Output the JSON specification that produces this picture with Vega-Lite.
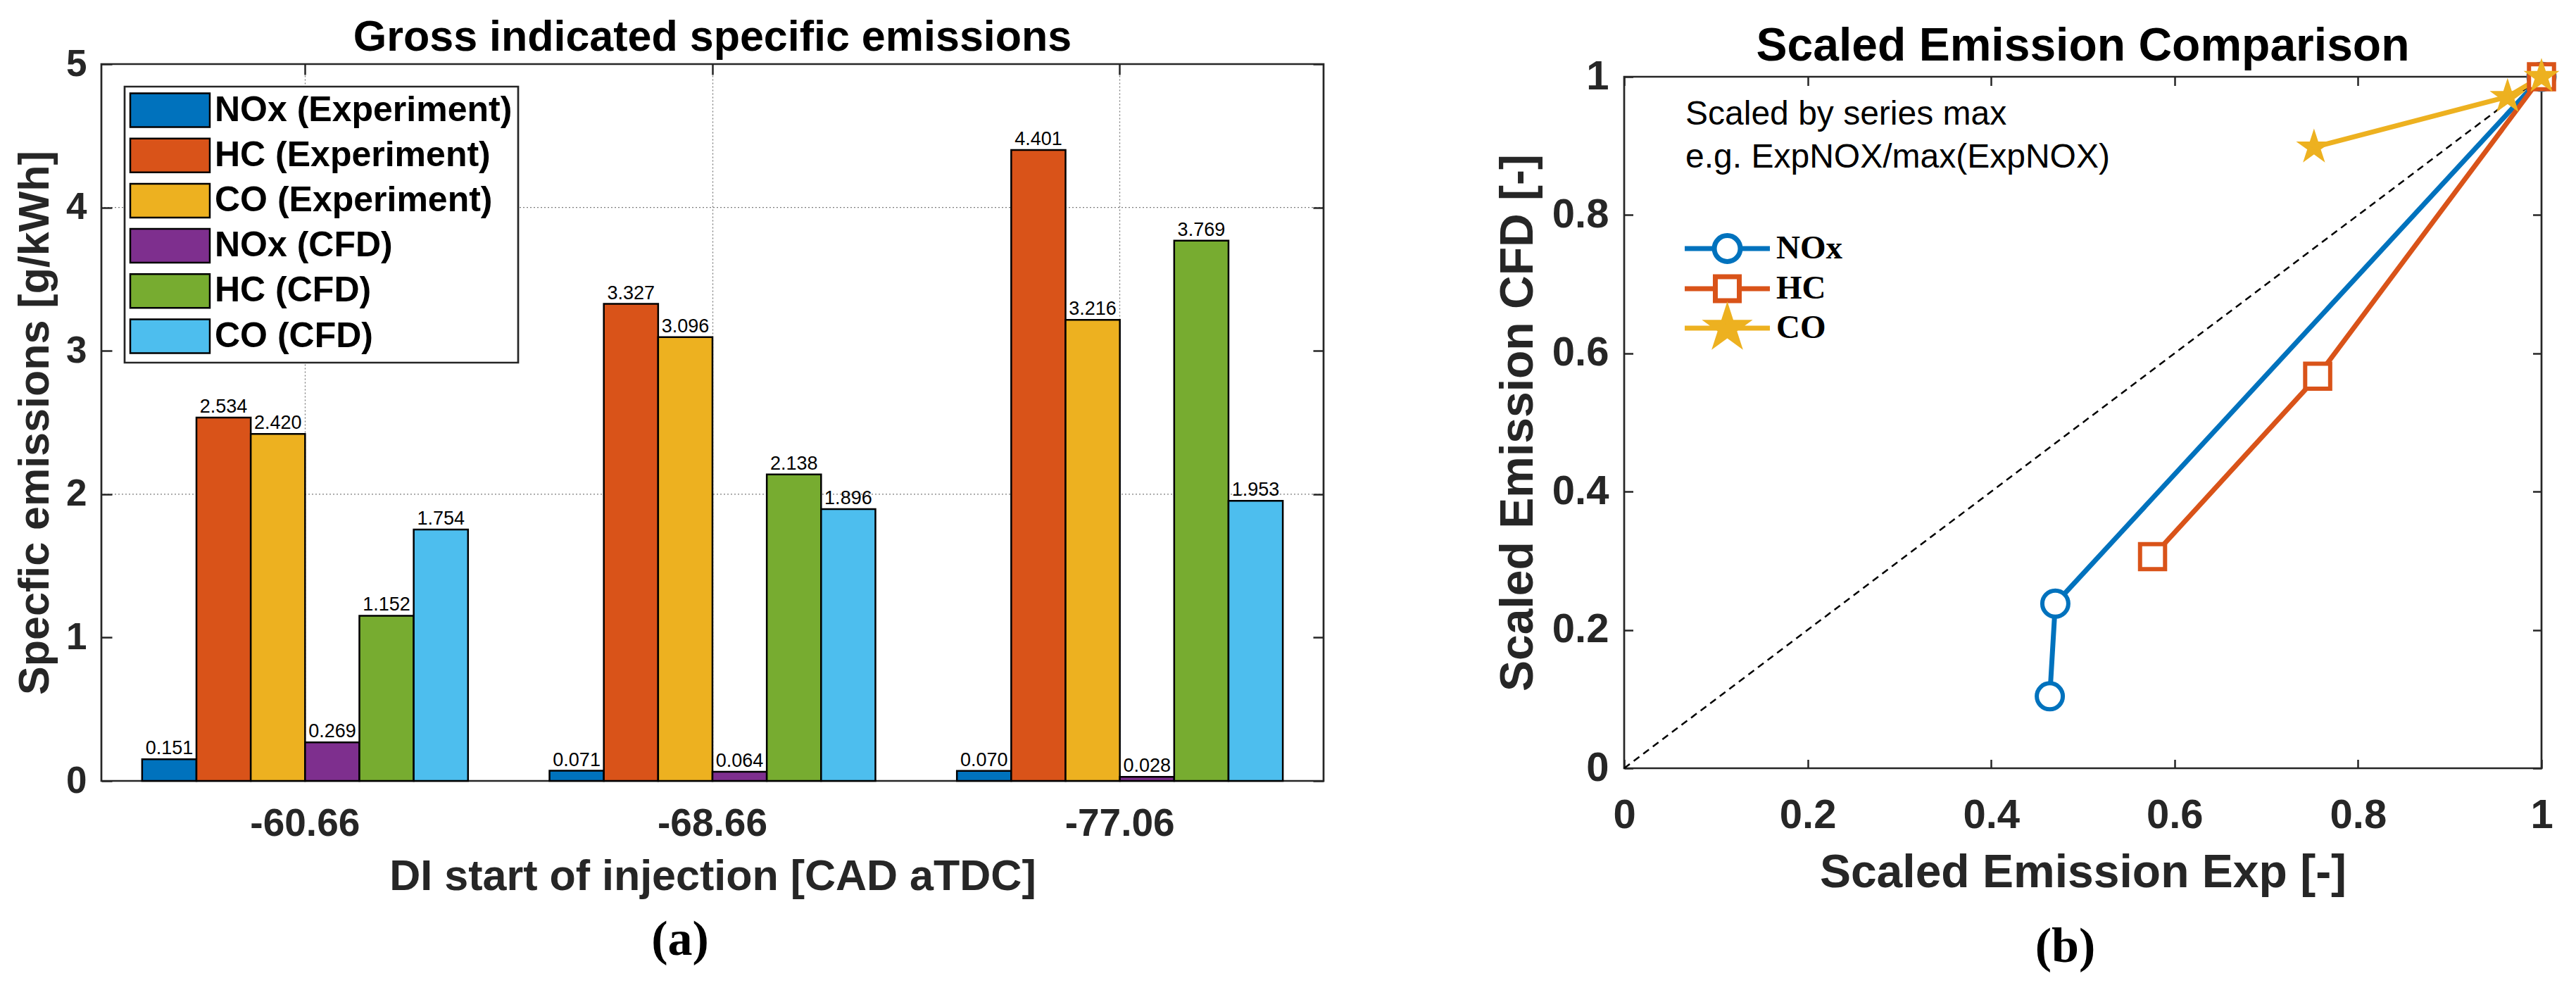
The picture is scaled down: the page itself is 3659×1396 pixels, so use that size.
{
  "$schema": "https://vega.github.io/schema/vega-lite/v6.json",
  "background": "white",
  "padding": {"left": 18, "top": 21, "right": 5, "bottom": 5},
  "datasets": {
    "emissions": [
      {"sit": "-60.66", "series": "NOx (Experiment)", "val": 0.151},
      {"sit": "-60.66", "series": "HC (Experiment)", "val": 2.534},
      {"sit": "-60.66", "series": "CO (Experiment)", "val": 2.420},
      {"sit": "-60.66", "series": "NOx (CFD)", "val": 0.269},
      {"sit": "-60.66", "series": "HC (CFD)", "val": 1.152},
      {"sit": "-60.66", "series": "CO (CFD)", "val": 1.754},
      {"sit": "-68.66", "series": "NOx (Experiment)", "val": 0.071},
      {"sit": "-68.66", "series": "HC (Experiment)", "val": 3.327},
      {"sit": "-68.66", "series": "CO (Experiment)", "val": 3.096},
      {"sit": "-68.66", "series": "NOx (CFD)", "val": 0.064},
      {"sit": "-68.66", "series": "HC (CFD)", "val": 2.138},
      {"sit": "-68.66", "series": "CO (CFD)", "val": 1.896},
      {"sit": "-77.06", "series": "NOx (Experiment)", "val": 0.070},
      {"sit": "-77.06", "series": "HC (Experiment)", "val": 4.401},
      {"sit": "-77.06", "series": "CO (Experiment)", "val": 3.216},
      {"sit": "-77.06", "series": "NOx (CFD)", "val": 0.028},
      {"sit": "-77.06", "series": "HC (CFD)", "val": 3.769},
      {"sit": "-77.06", "series": "CO (CFD)", "val": 1.953}
    ],
    "scaled": [
      {"pol": "NOx", "sit": "-60.66", "ord": 1, "exp": 1.000, "cfd": 1.000},
      {"pol": "NOx", "sit": "-68.66", "ord": 2, "exp": 0.470, "cfd": 0.238},
      {"pol": "NOx", "sit": "-77.06", "ord": 3, "exp": 0.464, "cfd": 0.104},
      {"pol": "HC", "sit": "-60.66", "ord": 1, "exp": 0.576, "cfd": 0.306},
      {"pol": "HC", "sit": "-68.66", "ord": 2, "exp": 0.756, "cfd": 0.567},
      {"pol": "HC", "sit": "-77.06", "ord": 3, "exp": 1.000, "cfd": 1.000},
      {"pol": "CO", "sit": "-60.66", "ord": 1, "exp": 0.752, "cfd": 0.898},
      {"pol": "CO", "sit": "-68.66", "ord": 2, "exp": 0.963, "cfd": 0.971},
      {"pol": "CO", "sit": "-77.06", "ord": 3, "exp": 1.000, "cfd": 1.000}
    ],
    "diag": [{"exp": 0, "cfd": 0}, {"exp": 1, "cfd": 1}],
    "grid": [{"g": 2}, {"g": 4}]
  },
  "spacing": 427,
  "bounds": "flush",
  "center": true,
  "resolve": {
    "scale": {"color": "independent", "shape": "independent", "stroke": "independent", "fill": "independent", "size": "independent"},
    "legend": {"color": "independent", "shape": "independent", "stroke": "independent", "fill": "independent"}
  },
  "hconcat": [
    {
      "width": 1736,
      "height": 1018,
      "layer": [
        {
          "data": {"name": "grid"},
          "mark": {"type": "rule", "stroke": "#262626", "strokeWidth": 1.3, "strokeDash": [2, 3], "opacity": 0.6},
          "encoding": {
            "y": {"field": "g", "type": "quantitative", "scale": {"domain": [0, 5], "nice": false}, "axis": null}
          }
        },
        {
          "data": {"name": "emissions"},
          "mark": {"type": "bar", "stroke": "black", "strokeWidth": 2.5},
          "encoding": {
            "x": {
              "field": "sit", "type": "nominal", "sort": ["-60.66", "-68.66", "-77.06"],
              "scale": {"paddingInner": 0.2, "paddingOuter": 0.1},
              "axis": {"orient": "bottom", "title": "DI start of injection [CAD aTDC]", "labelAngle": 0, "ticks": false,
                       "labelFontSize": 55, "labelPadding": 34, "titleFontSize": 61, "titlePadding": 18}
            },
            "xOffset": {
              "field": "series", "type": "nominal",
              "sort": ["NOx (Experiment)", "HC (Experiment)", "CO (Experiment)", "NOx (CFD)", "HC (CFD)", "CO (CFD)"],
              "scale": {"paddingInner": 0, "paddingOuter": 0}
            },
            "y": {
              "field": "val", "type": "quantitative", "scale": {"domain": [0, 5], "nice": false},
              "axis": {"orient": "left", "values": [0, 1, 2, 3, 4, 5], "format": "d", "title": "Specfic emissions [g/kWh]",
                       "tickSize": -15, "labelPadding": 36, "labelFontSize": 53, "titleFontSize": 61, "titlePadding": 12}
            },
            "color": {
              "field": "series", "type": "nominal",
              "scale": {
                "domain": ["NOx (Experiment)", "HC (Experiment)", "CO (Experiment)", "NOx (CFD)", "HC (CFD)", "CO (CFD)"],
                "range": ["#0072BD", "#D95319", "#EDB120", "#7E2F8E", "#77AC30", "#4DBEEE"]
              },
              "legend": {
                "orient": "none", "legendX": 33, "legendY": 32, "title": null,
                "padding": 8, "strokeColor": "#262626", "fillColor": "white",
                "symbolType": "M -2.354 -1 L 2.354 -1 L 2.354 1 L -2.354 1 Z",
                "symbolSize": 2304, "symbolStrokeColor": "black", "symbolStrokeWidth": 2.5,
                "symbolOffset": 31, "labelOffset": 38, "rowPadding": 5.2,
                "labelFontSize": 50, "labelFontWeight": "bold", "labelColor": "black",
                "encode": {"symbols": {"update": {"stroke": {"value": "black"}, "strokeWidth": {"value": 2.5}, "opacity": {"value": 1}}}}
              }
            }
          }
        },
        {
          "data": {"name": "emissions"},
          "mark": {"type": "text", "baseline": "bottom", "fontSize": 27, "color": "black", "dy": -1},
          "encoding": {
            "x": {
              "field": "sit", "type": "nominal", "sort": ["-60.66", "-68.66", "-77.06"],
              "axis": {"orient": "top", "labels": false, "title": null, "tickSize": -15, "grid": true,
                       "gridColor": "#262626", "gridDash": [2, 3], "gridWidth": 1.3, "gridOpacity": 0.6, "bandPosition": 0.5}
            },
            "xOffset": {
              "field": "series", "type": "nominal",
              "sort": ["NOx (Experiment)", "HC (Experiment)", "CO (Experiment)", "NOx (CFD)", "HC (CFD)", "CO (CFD)"]
            },
            "y": {
              "field": "val", "type": "quantitative", "scale": {"domain": [0, 5], "nice": false},
              "axis": {"orient": "right", "labels": false, "title": null, "values": [0, 1, 2, 3, 4, 5], "tickSize": -15}
            },
            "text": {"field": "val", "type": "quantitative", "format": ".3f"}
          }
        },
        {
          "data": {"values": [{"cap": "Gross indicated specific emissions"}]},
          "mark": {"type": "text", "fontWeight": "bold", "fontSize": 61, "baseline": "alphabetic", "align": "center", "color": "black"},
          "encoding": {
            "x": {"datum": "-68.66", "type": "nominal", "axis": null},
            "y": {"datum": 5.093, "type": "quantitative", "scale": {"domain": [0, 5], "nice": false}, "axis": null},
            "text": {"field": "cap"}
          }
        },
        {
          "data": {"values": [{"cap": "(a)"}]},
          "mark": {"type": "text", "font": "Liberation Serif", "fontWeight": "bold", "fontSize": 70,
                   "baseline": "alphabetic", "align": "center", "dx": -46, "color": "black"},
          "encoding": {
            "x": {"datum": "-68.66", "type": "nominal", "axis": null},
            "y": {"datum": -1.213, "type": "quantitative", "scale": {"domain": [0, 5], "nice": false}, "axis": null},
            "text": {"field": "cap"}
          }
        }
      ],
      "resolve": {"axis": {"x": "independent", "y": "independent"}}
    },
    {
      "width": 1303,
      "height": 982,
      "layer": [
        {
          "data": {"name": "diag"},
          "mark": {"type": "line", "color": "black", "strokeWidth": 2.5, "strokeDash": [10, 7]},
          "encoding": {
            "x": {
              "field": "exp", "type": "quantitative", "scale": {"domain": [0, 1], "nice": false},
              "axis": {"orient": "bottom", "values": [0, 0.2, 0.4, 0.6, 0.8, 1], "format": "~g", "title": "Scaled Emission Exp [-]",
                       "tickSize": -12.5, "labelPadding": 50.5, "labelFontSize": 58, "labelFlush": false,
                       "titleFontSize": 66, "titlePadding": 20}
            },
            "y": {
              "field": "cfd", "type": "quantitative", "scale": {"domain": [0, 1], "nice": false},
              "axis": {"orient": "left", "values": [0, 0.2, 0.4, 0.6, 0.8, 1], "format": "~g", "title": "Scaled Emission CFD [-]",
                       "tickSize": -12.5, "labelPadding": 34.5, "labelFontSize": 58, "titleFontSize": 66, "titlePadding": 14}
            }
          }
        },
        {
          "data": {"name": "scaled"},
          "mark": {"type": "line", "strokeWidth": 7},
          "encoding": {
            "x": {
              "field": "exp", "type": "quantitative", "scale": {"domain": [0, 1], "nice": false},
              "axis": {"orient": "top", "labels": false, "title": null, "values": [0, 0.2, 0.4, 0.6, 0.8, 1], "tickSize": -12.5}
            },
            "y": {
              "field": "cfd", "type": "quantitative", "scale": {"domain": [0, 1], "nice": false},
              "axis": {"orient": "right", "labels": false, "title": null, "values": [0, 0.2, 0.4, 0.6, 0.8, 1], "tickSize": -12.5}
            },
            "color": {
              "field": "pol", "type": "nominal",
              "scale": {"domain": ["NOx", "HC", "CO"], "range": ["#0072BD", "#D95319", "#EDB120"]},
              "legend": null
            },
            "order": {"field": "ord", "type": "quantitative"}
          }
        },
        {
          "data": {"name": "scaled"},
          "mark": {"type": "point", "filled": true, "strokeWidth": 6, "opacity": 1},
          "encoding": {
            "x": {"field": "exp", "type": "quantitative", "scale": {"domain": [0, 1], "nice": false}, "axis": null},
            "y": {"field": "cfd", "type": "quantitative", "scale": {"domain": [0, 1], "nice": false}, "axis": null},
            "shape": {
              "field": "pol", "type": "nominal",
              "scale": {"domain": ["NOx", "HC", "CO"],
                        "range": ["circle", "square", "M 0 -1 L 0.2245 -0.309 L 0.951 -0.309 L 0.363 0.118 L 0.588 0.809 L 0 0.382 L -0.588 0.809 L -0.363 0.118 L -0.951 -0.309 L -0.2245 -0.309 Z"]},
              "legend": null
            },
            "size": {
              "field": "pol", "type": "nominal",
              "scale": {"domain": ["NOx", "HC", "CO"], "range": [1369, 1156, 2900]},
              "legend": null
            },
            "stroke": {
              "field": "pol", "type": "nominal",
              "scale": {"domain": ["NOx", "HC", "CO"], "range": ["#0072BD", "#D95319", "#EDB120"]},
              "legend": null
            },
            "fill": {
              "field": "pol", "type": "nominal",
              "scale": {"domain": ["NOx", "HC", "CO"], "range": ["white", "white", "#EDB120"]},
              "legend": null
            }
          }
        },
        {
          "data": {"name": "scaled"},
          "transform": [{"filter": "datum.ord > 9"}],
          "mark": {"type": "point", "filled": true, "strokeWidth": 7, "opacity": 1},
          "encoding": {
            "shape": {
              "field": "pol", "type": "nominal",
              "scale": {"domain": ["NOx", "HC", "CO"],
                        "range": [
                          "M -2.95 0 L -0.9 0 M 0.9 0 L 2.95 0 M 0.9 0 A 0.9 0.9 0 1 1 -0.9 0 A 0.9 0.9 0 1 1 0.9 0 Z",
                          "M -2.95 0 L -0.83 0 M 0.83 0 L 2.95 0 M -0.83 -0.83 L 0.83 -0.83 L 0.83 0.83 L -0.83 0.83 Z",
                          "M -2.95 0 L 2.95 0 M 0 -1.3 L 0.2919 -0.4017 L 1.2363 -0.4017 L 0.4719 0.1534 L 0.7644 1.0517 L 0 0.4966 L -0.7644 1.0517 L -0.4719 0.1534 L -1.2363 -0.4017 L -0.2919 -0.4017 Z"
                        ]},
              "legend": {
                "orient": "none", "legendX": 86, "legendY": 220, "title": null, "padding": 0,
                "symbolSize": 1681, "symbolStrokeWidth": 7, "symbolOffset": 36.5, "labelOffset": 45.5, "rowPadding": -17.5,
                "symbolOpacity": 1, "labelFont": "Liberation Serif", "labelFontSize": 47, "labelFontWeight": "bold", "labelColor": "black"
              }
            },
            "stroke": {
              "field": "pol", "type": "nominal",
              "scale": {"domain": ["NOx", "HC", "CO"], "range": ["#0072BD", "#D95319", "#EDB120"]},
              "legend": {
                "orient": "none", "legendX": 86, "legendY": 220, "title": null, "padding": 0,
                "symbolSize": 1681, "symbolStrokeWidth": 7, "symbolOffset": 36.5, "labelOffset": 45.5, "rowPadding": -17.5,
                "symbolOpacity": 1, "labelFont": "Liberation Serif", "labelFontSize": 47, "labelFontWeight": "bold", "labelColor": "black"
              }
            },
            "fill": {
              "field": "pol", "type": "nominal",
              "scale": {"domain": ["NOx", "HC", "CO"], "range": ["white", "white", "#EDB120"]},
              "legend": {
                "orient": "none", "legendX": 86, "legendY": 220, "title": null, "padding": 0,
                "symbolSize": 1681, "symbolStrokeWidth": 7, "symbolOffset": 36.5, "labelOffset": 45.5, "rowPadding": -17.5,
                "symbolOpacity": 1, "labelFont": "Liberation Serif", "labelFontSize": 47, "labelFontWeight": "bold", "labelColor": "black"
              }
            }
          }
        },
        {
          "data": {"values": [{"note": "Scaled by series max"}]},
          "mark": {"type": "text", "align": "left", "baseline": "alphabetic", "fontSize": 48, "lineHeight": 61, "color": "black"},
          "encoding": {
            "x": {"datum": 0.0668, "type": "quantitative", "scale": {"domain": [0, 1], "nice": false}, "axis": null},
            "y": {"datum": 0.931, "type": "quantitative", "scale": {"domain": [0, 1], "nice": false}, "axis": null},
            "text": {"value": ["Scaled by series max", "e.g. ExpNOX/max(ExpNOX)"]}
          }
        },
        {
          "data": {"values": [{"cap": "Scaled Emission Comparison"}]},
          "mark": {"type": "text", "fontWeight": "bold", "fontSize": 66, "baseline": "alphabetic", "align": "center", "color": "black"},
          "encoding": {
            "x": {"datum": 0.5, "type": "quantitative", "scale": {"domain": [0, 1], "nice": false}, "axis": null},
            "y": {"datum": 1.0234, "type": "quantitative", "scale": {"domain": [0, 1], "nice": false}, "axis": null},
            "text": {"field": "cap"}
          }
        },
        {
          "data": {"values": [{"cap": "(b)"}]},
          "mark": {"type": "text", "font": "Liberation Serif", "fontWeight": "bold", "fontSize": 70,
                   "baseline": "alphabetic", "align": "center", "dx": -25, "color": "black"},
          "encoding": {
            "x": {"datum": 0.5, "type": "quantitative", "scale": {"domain": [0, 1], "nice": false}, "axis": null},
            "y": {"datum": -0.28, "type": "quantitative", "scale": {"domain": [0, 1], "nice": false}, "axis": null},
            "text": {"field": "cap"}
          }
        }
      ],
      "resolve": {
        "axis": {"x": "independent", "y": "independent"},
        "scale": {"shape": "independent", "stroke": "independent", "fill": "independent", "size": "independent"}
      }
    }
  ],
  "config": {
    "font": "Liberation Sans",
    "view": {"stroke": "#262626", "strokeWidth": 2.7},
    "axis": {
      "labelColor": "#262626", "titleColor": "#262626", "tickColor": "#262626", "tickWidth": 2.5,
      "labelFontWeight": "bold", "titleFontWeight": "bold", "domain": false, "grid": false, "labelOverlap": false
    },
    "legend": {"labelLimit": 0, "strokeWidth": 2.7}
  }
}
